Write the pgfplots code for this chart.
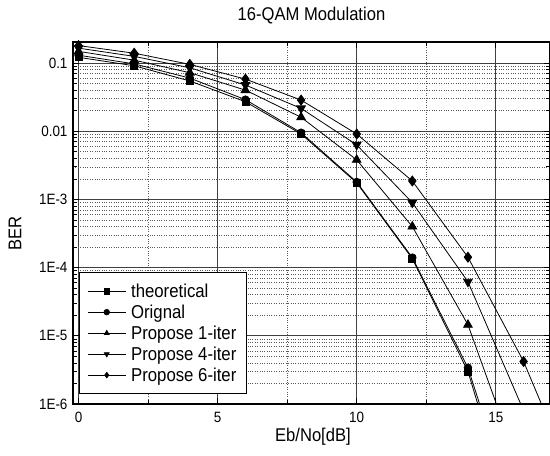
\documentclass[border=0pt]{standalone}
\usepackage{pgfplots}
\pgfplotsset{compat=1.18}
\usepackage{fontspec}
\setmainfont{Liberation Sans}[FakeStretch=0.9]
\pgfplotstableread{
x y
0 0.121
2 0.091
4 0.0545
6 0.027
8 0.0091
10 0.00175
12 0.000135
14 3.0e-6
16 6e-9
}\theo
\pgfplotstableread{
x y
0 0.130
2 0.097
4 0.060
6 0.029
8 0.0095
10 0.0018
12 0.00014
14 3.4e-6
16 1e-8
}\orig
\pgfplotstableread{
x y
0 0.148
2 0.110
4 0.072
6 0.040
8 0.016
10 0.0038
12 0.0004
14 1.45e-5
16 7.8e-8
}\iterA
\pgfplotstableread{
x y
0 0.165
2 0.125
4 0.085
6 0.0475
8 0.0216
10 0.0063
12 0.000895
14 6.2e-5
16 8e-7
}\iterB
\pgfplotstableread{
x y
0 0.180
2 0.139
4 0.0955
6 0.058
8 0.0286
10 0.0091
12 0.00186
14 0.000142
16 4.2e-6
18 4.8e-8
}\iterC
\begin{document}
\begin{tikzpicture}
\begin{axis}[
  at={(0,0)}, anchor=south west,
  scale only axis, width=477bp, height=362bp,
  xmin=-0.2, xmax=16.95,
  ymode=log, ymin=1e-6, ymax=0.203,
  xtick={0,5,10,15}, xticklabels={0,5,10,15},
  minor x tick num=1,
  ytick={1e-6,1e-5,1e-4,1e-3,1e-2,1e-1},
  yticklabels={1E-6,1E-5,1E-4,1E-3,0.01,0.1},
  /pgf/number format/assume math mode=true,
  tick align=inside,
  major tick length=6bp, minor tick length=4bp,
  xmajorgrids, xminorgrids, ymajorgrids, yminorgrids,
  major grid style={solid, black!75, line width=0.8bp},
  minor grid style={dotted, black!65, line width=0.6bp},
  axis line style={black, line width=1.1bp},
  every tick/.style={black, line width=0.7bp},
  tick label style={font=\fontsize{15}{17}\selectfont},
  xticklabel style={yshift=-5bp},
  yticklabel style={xshift=-2bp},
  title={16-QAM Modulation},
  title style={at={(0.5,1)}, anchor=center, yshift=20bp, font=\fontsize{18.5}{21}\selectfont},
  xlabel={Eb/No[dB]},
  xlabel style={at={(axis description cs:0.503,0)}, anchor=center, yshift=-33bp, font=\fontsize{18.5}{21}\selectfont},
  ylabel={BER},
  ylabel style={at={(axis description cs:-0.1216,0.472)}, anchor=center, font=\fontsize{18.5}{21}\selectfont},
  legend style={at={(0.0126,0.0276)}, anchor=south west, draw=black, line width=0.8bp, fill=white,
     font=\fontsize{18.7}{21}\selectfont, inner xsep=8bp, inner ysep=9bp, row sep=2bp, column sep=3bp},
  legend cell align=left,
  legend image code/.code={\draw[#1,mark indices={2},line width=0.7bp,mark size=2.8pt] plot coordinates {(0bp,0bp)(19bp,0bp)(38bp,0bp)};},
]
\addplot[black, line width=0.8bp, mark=square*, mark size=3.5pt, mark indices={1,2,3,4,5,6,7,8}] table[x=x,y=y] {\theo};
\addlegendentry{theoretical}
\addplot[black, line width=0.8bp, mark=*, mark size=3.8pt, mark indices={1,2,3,4,5,6,7,8}] table[x=x,y=y] {\orig};
\addlegendentry{Orignal}
\addplot[black, line width=0.8bp, mark=triangle*, mark size=5pt, mark indices={1,2,3,4,5,6,7,8}] table[x=x,y=y] {\iterA};
\addlegendentry{Propose 1-iter}
\addplot[black, line width=0.8bp, mark=triangle*, mark options={rotate=180}, mark size=5pt, mark indices={1,2,3,4,5,6,7,8}] table[x=x,y=y] {\iterB};
\addlegendentry{Propose 4-iter}
\addplot[black, line width=0.8bp, mark=diamond*, mark size=5pt, mark indices={1,2,3,4,5,6,7,8,9}] table[x=x,y=y] {\iterC};
\addlegendentry{Propose 6-iter}
\end{axis}
\pgfresetboundingbox
\useasboundingbox (-73bp,-52bp) rectangle (477bp,404bp);
\end{tikzpicture}
\end{document}
